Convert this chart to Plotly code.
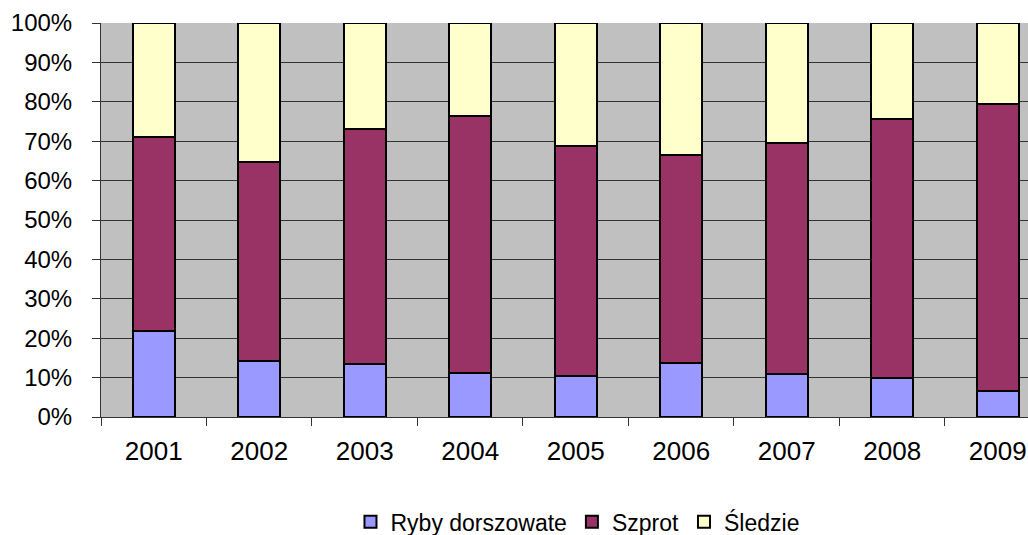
import plotly.graph_objects as go

# Shares of catch by species group (percent of total), 2001-2009
years = ["2001", "2002", "2003", "2004", "2005", "2006", "2007", "2008", "2009"]
ryby_dorszowate = [21.8, 14.1, 13.4, 11.2, 10.5, 13.8, 10.8, 9.9, 6.7]
szprot = [49.3, 50.7, 59.6, 65.1, 58.4, 52.7, 58.7, 65.7, 72.8]
sledzie = [28.9, 35.2, 27.0, 23.7, 31.1, 33.5, 30.5, 24.4, 20.5]
y_ticks = [0, 10, 20, 30, 40, 50, 60, 70, 80, 90, 100]
y_tick_labels = [f"{v}%" for v in y_ticks]

series = [
    ("Ryby dorszowate", ryby_dorszowate, "#9999FF"),
    ("Szprot", szprot, "#993366"),
    ("Śledzie", sledzie, "#FFFFCC"),
]

fig = go.Figure()
for name, vals, color in series:
    fig.add_trace(go.Bar(
        x=years, y=vals, name=name,
        marker=dict(color=color, line=dict(color="#000000", width=2)),
    ))

font_family = "Liberation Sans, Arial, sans-serif"

fig.update_layout(
    barmode="stack",
    bargap=0.6,
    width=1028, height=535,
    margin=dict(l=101, r=0, t=23, b=118, autoexpand=False),
    paper_bgcolor="#FFFFFF",
    plot_bgcolor="#C0C0C0",
    font=dict(family=font_family, size=23, color="#000000"),
    showlegend=True,
    legend=dict(
        orientation="h", x=0.514, xanchor="center", y=-0.266, yanchor="middle",
        font=dict(family=font_family, size=23), traceorder="normal", itemwidth=30,
        bgcolor="rgba(0,0,0,0)",
    ),
    xaxis=dict(
        type="category", range=[-0.5, 8.287], automargin=False,
        showline=True, linecolor="#333333", linewidth=1,
        ticks="outside", ticklen=8, tickcolor="#333333", tickson="boundaries",
        showgrid=False, tickfont=dict(family=font_family, size=26),
        ticklabelstandoff=11,
    ),
    yaxis=dict(
        range=[0, 100], tickmode="array", tickvals=y_ticks, ticktext=y_tick_labels,
        automargin=False,
        showline=True, linecolor="#333333", linewidth=1,
        ticks="outside", ticklen=8, tickcolor="#333333",
        showgrid=True, gridcolor="#333333", gridwidth=1,
        tickfont=dict(family=font_family, size=24), ticklabelstandoff=15,
        zeroline=False,
    ),
)

fig.write_html("out.html")
